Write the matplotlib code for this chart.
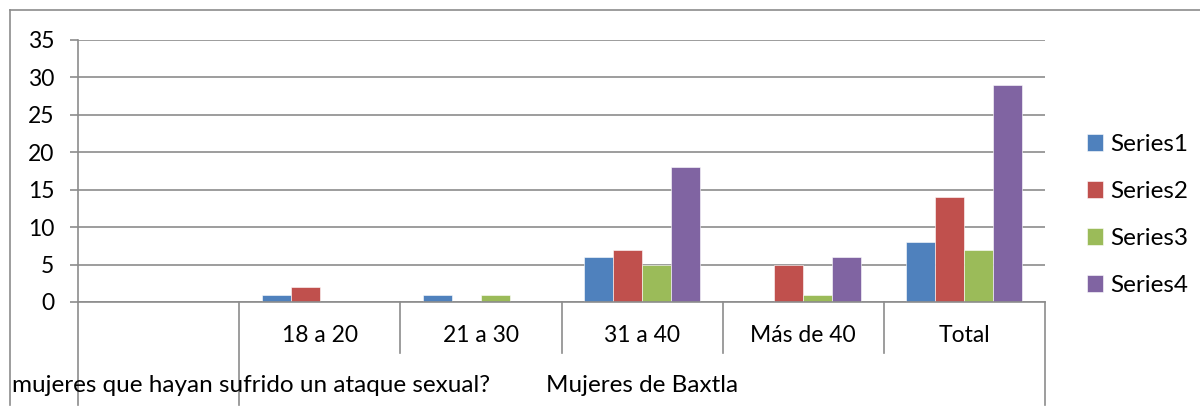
import numpy as np
import matplotlib.pyplot as plt

plt.rcParams['font.family'] = ['Lato', 'DejaVu Sans']

# Age groups on the inner axis, first slot is empty
groups = ['', '18 a 20', '21 a 30', '31 a 40', 'Más de 40', 'Total']
series_names = ['Series1', 'Series2', 'Series3', 'Series4']
series1 = [0, 1, 1, 6, 0, 8]
series2 = [0, 2, 0, 7, 5, 14]
series3 = [0, 0, 1, 5, 1, 7]
series4 = [0, 0, 0, 18, 6, 29]
outer_labels = ['mujeres que hayan sufrido un ataque sexual?', 'Mujeres de Baxtla']
colors = ['#4F81BD', '#C0504D', '#9BBB59', '#8064A2']

W, H = 1200, 409
FS = 16.5
fig = plt.figure(figsize=(12, 4.09), dpi=100)
ax = fig.add_axes([78 / W, 1 - 302 / H, (1045 - 78) / W, (302 - 40) / H])

x = np.arange(len(groups))
bw = 0.18
for i, vals in enumerate([series1, series2, series3, series4]):
    ax.bar(x + (i - 1.5) * bw, vals, bw, color=colors[i], label=series_names[i],
           edgecolor='white', linewidth=0.4, zorder=3)

ax.set_xlim(-0.5, len(groups) - 0.5)
ax.set_ylim(0, 35)
ax.set_yticks(range(0, 36, 5))
ax.yaxis.grid(True, color='#8c8c8c', linewidth=1.2)
ax.set_axisbelow(True)
for s in ['top', 'right', 'bottom']:
    ax.spines[s].set_visible(False)
ax.spines['left'].set_color('#8c8c8c')
ax.spines['left'].set_linewidth(1.2)
ax.tick_params(axis='y', length=6, color='#8c8c8c', width=1.2, labelsize=FS, pad=11)
ax.set_xticks([])

gray = '#8c8c8c'
trans = ax.get_xaxis_transform()
# axis baseline
ax.plot([-0.5, len(groups) - 0.5], [0, 0], color=gray, lw=1.2, clip_on=False, zorder=4)
# category separators: long ones bound the outer groups
axis_h = (302 - 40) / H
short_end = -(353 - 302) / H / axis_h
long_end = -(405 - 302) / H / axis_h
for b in np.arange(-0.5, len(groups)):
    end = long_end if b in (-0.5, 0.5, len(groups) - 0.5) else short_end
    ax.plot([b, b], [0, end], color=gray, lw=1.2, transform=trans, clip_on=False)

# inner labels
for xi, g in zip(x, groups):
    ax.text(xi, -(335 - 302) / H / axis_h, g, transform=trans, ha='center',
            va='center', fontsize=FS)
# outer labels
ax.text(12 / W, 1 - 386 / H, outer_labels[0], transform=fig.transFigure,
        ha='left', va='center', fontsize=FS + 1)
ax.text(642 / W, 1 - 386 / H, outer_labels[1], transform=fig.transFigure,
        ha='center', va='center', fontsize=FS + 1)

# outer chart frame
fig.add_artist(plt.Line2D([10 / W, 1], [1 - 10 / H, 1 - 10 / H], color=gray, lw=1.2))
fig.add_artist(plt.Line2D([10 / W, 10 / W], [1 - 10 / H, 1 - 405 / H], color=gray, lw=1.2))

fig.legend(loc='center left', bbox_to_anchor=(1080 / W, 1 - 215 / H), frameon=False,
           fontsize=17.5, handlelength=0.66, handleheight=0.66, handletextpad=0.3,
           labelspacing=1.07, borderaxespad=0, borderpad=0.3)

fig.savefig('out.png', dpi=100, facecolor='white')
